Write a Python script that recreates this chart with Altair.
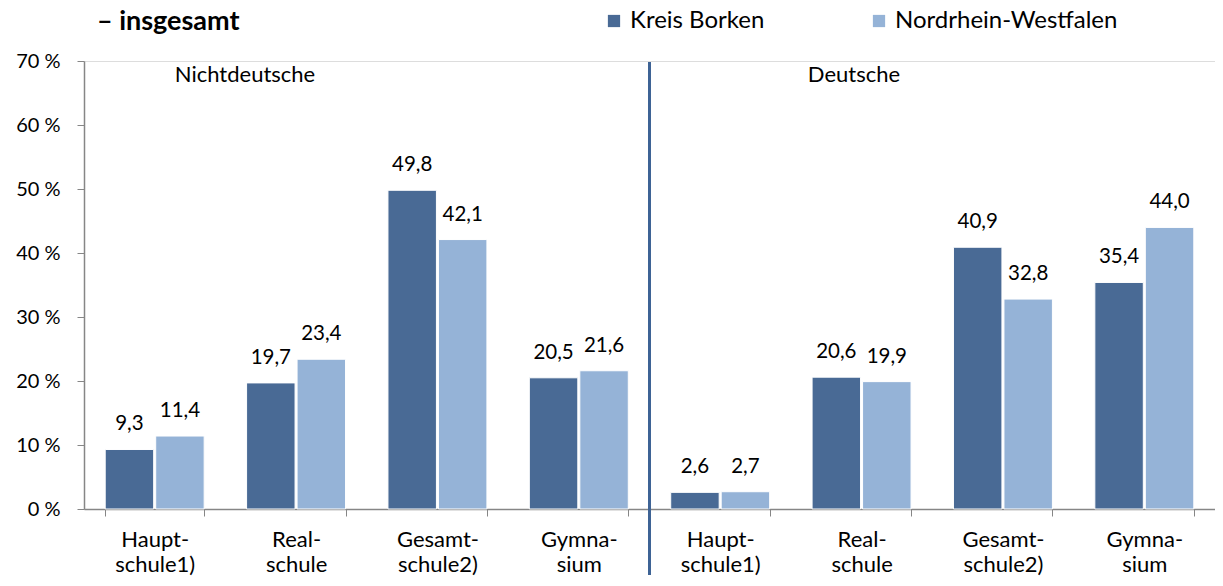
import altair as alt
import pandas as pd

groups = ["Nichtdeutsche"] * 4 + ["Deutsche"] * 4
schools = ["Haupt-~schule1)", "Real-~schule", "Gesamt-~schule2)", "Gymna-~sium"] * 2
kreis_borken = [9.3, 19.7, 49.8, 20.5, 2.6, 20.6, 40.9, 35.4]
nrw = [11.4, 23.4, 42.1, 21.6, 2.7, 19.9, 32.8, 44.0]
series = ["Kreis Borken", "Nordrhein-Westfalen"]
colors = ["#496a95", "#95b3d7"]
y_ticks = [0, 10, 20, 30, 40, 50, 60, 70]
title_text = "– insgesamt"
panel_labels = ["Nichtdeutsche", "Deutsche"]

cats = [f"{g}|{s}" for g, s in zip(groups, schools)]
rows = []
for c, a, b in zip(cats, kreis_borken, nrw):
    rows.append({"cat": c, "series": series[0], "v": a})
    rows.append({"cat": c, "series": series[1], "v": b})
df = pd.DataFrame(rows)
df["label"] = df["v"].map(lambda v: f"{v:.1f}".replace(".", ","))

W, H = 1131, 448
FONT = "Lato"

xenc = alt.X(
    "cat:N",
    sort=cats,
    scale=alt.Scale(paddingInner=0.3, paddingOuter=0.15),
    axis=alt.Axis(
        title=None,
        labelExpr="datum.label && indexof(datum.label, '|') >= 0 ? split(split(datum.label, '|')[1], '~') : ''",
        labelAngle=0,
        labelFontSize=22,
        labelLineHeight=25,
        labelColor="#000000",
        labelPadding=13,
        labelBaseline="top",
        tickBand="extent",
        tickSize=7,
        tickColor="#868686",
        domainColor="#868686",
        domainWidth=1.5,
        labelFont=FONT,
    ),
)
yenc = alt.Y(
    "v:Q",
    scale=alt.Scale(domain=[0, 70], nice=False),
    axis=alt.Axis(
        title=None,
        values=y_ticks,
        labelExpr="datum.value + ' %'",
        labelFontSize=20,
        labelColor="#000000",
        labelPadding=17,
        tickSize=7,
        tickColor="#868686",
        domainColor="#868686",
        domainWidth=1.5,
        grid=False,
        labelFont=FONT,
    ),
)
xoff = alt.XOffset("series:N", sort=series, scale=alt.Scale(paddingInner=0.04))

base = alt.Chart(df).encode(x=xenc, xOffset=xoff, y=yenc)

shadow = base.mark_bar(color="#000000", opacity=0.12, xOffset=2, yOffset=1)

bars = base.mark_bar(stroke="white", strokeWidth=1).encode(
    color=alt.Color(
        "series:N",
        sort=series,
        scale=alt.Scale(domain=series, range=colors),
        legend=alt.Legend(
            title=None,
            orient="none",
            legendX=518,
            legendY=-52,
            direction="horizontal",
            symbolType="square",
            symbolSize=150,
            symbolStrokeWidth=0,
            labelFontSize=24,
            labelFont=FONT,
            labelColor="#000000",
            labelOffset=4,
            labelLimit=400,
            columnPadding=102,
        ),
    )
)

labels = base.mark_text(dy=-25, baseline="middle", fontSize=20.5, font=FONT, color="#000000").encode(
    text="label:N"
)

div_df = pd.DataFrame({"k": [0]})
divider = alt.Chart(div_df).mark_rule(color="#3e6395", strokeWidth=3).encode(
    x=alt.value(W / 2), y=alt.value(1), y2=alt.value(514)
)

panel_df = pd.DataFrame({"t": panel_labels, "px": [161, 770]})
panels = alt.Chart(panel_df).mark_text(
    fontSize=22, font=FONT, color="#000000", baseline="middle", align="center"
).encode(x=alt.X("px:Q", scale=None), y=alt.value(14), text="t:N")

title_df = pd.DataFrame({"t": [title_text]})
title = alt.Chart(title_df).mark_text(
    fontSize=27, font=FONT, fontWeight="bold", color="#000000", align="left", baseline="alphabetic"
).encode(x=alt.value(13), y=alt.value(-31), text="t:N")

chart = alt.layer(shadow, bars, labels, divider, panels, title).properties(
    width=W,
    height=H,
    autosize=alt.AutoSizeParams(type="none"),
    padding={"left": 76, "top": 53, "right": 0, "bottom": 68},
).configure_view(stroke=None).configure(font=FONT)

chart.save("out.html", embed_options={"renderer": "svg", "actions": False})
